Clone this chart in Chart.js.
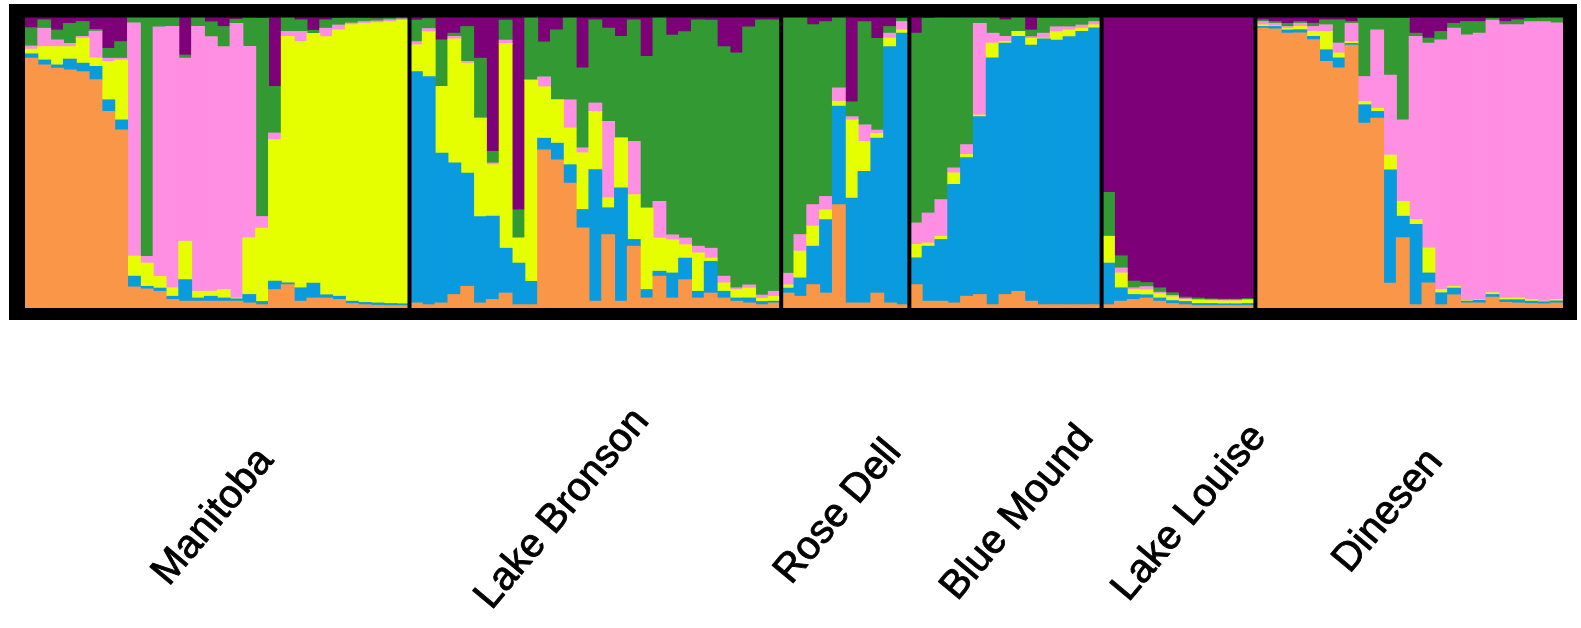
<!DOCTYPE html>
<html>
<head>
<meta charset="utf-8">
<script src="https://cdn.jsdelivr.net/npm/chart.js@4.4.1/dist/chart.umd.min.js"></script>
<style>
  html, body { margin: 0; padding: 0; background: #ffffff; }
  #wrap { width: 1581px; height: 628px; }
</style>
</head>
<body>
<div id="wrap"><canvas id="c" width="1581" height="628"></canvas></div>
<script>
// Sampling sites, in plotting order, and number of individuals per site
const populations = ['Manitoba', 'Lake Bronson', 'Rose Dell', 'Blue Mound', 'Lake Louise', 'Dinesen'];
const popSizes = [30, 29, 10, 15, 12, 24];

// Ancestry proportions (Q) for each individual, one array per genetic cluster.
// Rows: Manitoba | Lake Bronson | Rose Dell | Blue Mound | Lake Louise | Dinesen
const clusterOrange = [
  .858,.835,.824,.818,.812,.784,.675,.612,.072,.065,.057,.029,.023,.023,.023,.023,.023,.017,.011,.063,.080,.023,.034,.034,.029,.015,.011,.009,.008,.008,
  .017,.011,.017,.046,.074,.017,.029,.051,.011,.011,.543,.509,.429,.275,.023,.252,.023,.212,.034,.109,.034,.097,.034,.051,.034,.023,.017,.011,.017,
  .051,.040,.080,.051,.355,.017,.017,.051,.017,.011,
  .080,.023,.023,.017,.040,.046,.011,.046,.057,.023,.011,.011,.011,.011,.011,
  .011,.023,.029,.034,.023,.015,.011,.008,.008,.008,.008,.008,
  .961,.959,.944,.945,.922,.847,.825,.903,.635,.652,.085,.241,.011,.086,.011,.045,.017,.017,.037,.019,.017,.015,.014,.017
];
const clusterBlue = [
  .015,.017,.011,.037,.029,.046,.040,.034,.037,.009,.011,.011,.074,.011,.017,.011,.008,.029,.011,.029,.006,.046,.051,.011,.011,.008,.008,.008,.007,.006,
  .795,.784,.515,.452,.389,.297,.286,.154,.143,.080,.040,.057,.063,.063,.452,.092,.389,.023,.029,.017,.086,.074,.023,.109,.023,.011,.017,.011,.006,
  .017,.063,.132,.252,.338,.360,.452,.532,.881,.933,
  .092,.189,.212,.407,.476,.611,.848,.864,.876,.880,.913,.909,.921,.939,.951,
  .143,.046,.017,.011,.011,.010,.011,.007,.007,.006,.006,.007,
  .006,.008,.011,.011,.011,.040,.034,.006,.063,.023,.389,.074,.276,.034,.041,.023,.006,.009,.009,.009,.011,.008,.007,.007
];
const clusterYellow = [
  .016,.046,.063,.043,.086,.029,.132,.206,.069,.080,.040,.029,.132,.023,.017,.029,.003,.195,.252,.486,.847,.847,.858,.887,.915,.950,.959,.963,.969,.974,
  .092,.154,.229,.426,.378,.338,.177,.704,.086,.692,.177,.149,.126,.195,.200,.034,.172,.154,.280,.114,.114,.046,.132,.011,.029,.029,.034,.011,.017,
  .011,.092,.069,.034,.017,.269,.103,.017,.029,.011,
  .046,.011,.011,.040,.011,.006,.051,.006,.017,.023,.003,.029,.023,.011,.011,
  .092,.051,.017,.017,.015,.013,.007,.011,.010,.010,.010,.011,
  .006,.002,.006,.011,.017,.063,.017,.006,.011,.011,.051,.051,.017,.086,.011,.006,.002,.002,.006,.006,.006,.006,.002,.005
];
const clusterPink = [
  .011,.063,.023,.011,.006,.092,.011,.006,.801,.023,.858,.898,.629,.910,.875,.835,.944,.658,.040,.023,.017,.034,.000,.029,.017,.006,.006,.006,.006,.005,
  .011,.011,.000,.009,.006,.000,.006,.011,.000,.000,.034,.000,.097,.017,.029,.263,.000,.183,.000,.126,.017,.023,.023,.034,.023,.006,.011,.011,.017,
  .040,.057,.074,.046,.046,.011,.057,.011,.017,.029,
  .074,.103,.126,.017,.034,.315,.034,.017,.000,.006,.017,.017,.011,.011,.011,
  .000,.017,.006,.011,.005,.005,.003,.003,.003,.003,.003,.003,
  .011,.009,.006,.011,.017,.023,.034,.063,.086,.269,.275,.280,.629,.704,.858,.887,.913,.916,.937,.939,.939,.955,.961,.950
];
const clusterGreen = [
  .063,.029,.034,.069,.051,.006,.034,.057,.022,.823,.033,.033,.011,.033,.051,.069,.014,.097,.681,.160,.050,.040,.011,.029,.023,.017,.011,.008,.006,.005,
  .074,.034,.160,.011,.120,.206,.040,.069,.097,.216,.120,.240,.285,.275,.286,.320,.349,.418,.521,.634,.686,.709,.778,.784,.789,.807,.887,.946,.933,
  .881,.748,.618,.601,.244,.051,.355,.315,.023,.011,
  .652,.669,.628,.519,.439,.022,.056,.057,.050,.023,.051,.029,.029,.023,.014,
  .151,.042,.023,.014,.015,.009,.005,.005,.003,.003,.003,.003,
  .006,.006,.011,.006,.011,.017,.080,.006,.200,.040,.195,.349,.011,.017,.029,.017,.046,.040,.006,.011,.017,.011,.014,.019
];
const clusterPurple = [
  .037,.010,.045,.022,.016,.045,.108,.085,.000,.000,.001,.000,.130,.000,.016,.033,.008,.005,.005,.239,.000,.010,.045,.010,.005,.005,.005,.006,.005,.003,
  .010,.005,.079,.056,.033,.142,.462,.010,.662,.001,.085,.045,.000,.176,.010,.039,.068,.010,.136,.000,.062,.050,.010,.010,.102,.125,.033,.010,.010,
  .000,.000,.027,.016,.000,.292,.016,.074,.033,.005,
  .056,.005,.000,.000,.000,.000,.000,.010,.000,.045,.005,.005,.005,.005,.002,
  .603,.821,.908,.913,.931,.948,.963,.966,.969,.970,.970,.968,
  .010,.016,.022,.016,.022,.010,.010,.016,.005,.005,.005,.005,.056,.073,.050,.022,.016,.016,.005,.016,.010,.005,.002,.002
];

// One category per individual, named after its site
const individuals = [];
populations.forEach((p, i) => {
  for (let k = 1; k <= popSizes[i]; k++) individuals.push(p + ' ' + k);
});

const clusterColors = ['#F99648', '#0A9BDF', '#E6FF00', '#FF8FE3', '#339933', '#7E0078'];
const clusterData = [clusterOrange, clusterBlue, clusterYellow, clusterPink, clusterGreen, clusterPurple];

// Black frame around the plot, black rules between sites, rotated site names
const structurePlot = {
  id: 'structurePlot',
  afterDatasetsDraw(chart) {
    const { ctx, chartArea: a, scales: { x } } = chart;
    ctx.save();
    ctx.fillStyle = '#000';
    ctx.beginPath();
    ctx.rect(9, 4, 1568, 316);
    ctx.rect(a.left, a.top + 0.5, a.right - a.left, a.bottom - a.top - 0.5);
    ctx.fill('evenodd');

    const step = (a.right - a.left) / individuals.length;
    ctx.lineWidth = 4;
    ctx.strokeStyle = '#000';
    let start = 0;
    for (let i = 0; i < popSizes.length - 1; i++) {
      start += popSizes[i];
      const xb = x.getPixelForValue(start) - step / 2;
      ctx.beginPath();
      ctx.moveTo(xb, a.top);
      ctx.lineTo(xb, a.bottom);
      ctx.stroke();
    }
    ctx.restore();
  },
  afterDraw(chart) {
    const { ctx, scales: { x } } = chart;
    // horizontal offset from the site centre, and vertical centre of each name
    const place = [[-4, 517], [-33, 509], [-7, 512], [12, 513], [11, 513], [-21, 511]];
    ctx.save();
    ctx.fillStyle = '#000';
    ctx.strokeStyle = '#000';
    ctx.lineWidth = 0.9;
    ctx.lineJoin = 'round';
    ctx.font = '40px "Liberation Sans", Arial, sans-serif';
    ctx.textAlign = 'center';
    ctx.textBaseline = 'middle';
    let start = 0;
    populations.forEach((p, i) => {
      const first = x.getPixelForValue(start);
      const last = x.getPixelForValue(start + popSizes[i] - 1);
      const cx = (first + last) / 2 + place[i][0];
      ctx.save();
      ctx.translate(cx, place[i][1]);
      ctx.rotate(-50 * Math.PI / 180);
      ctx.fillText(p, 0, 0);
      ctx.strokeText(p, 0, 0);
      ctx.restore();
      start += popSizes[i];
    });
    ctx.restore();
  }
};

new Chart(document.getElementById('c'), {
  type: 'bar',
  data: {
    labels: individuals,
    datasets: clusterData.map((d, i) => ({
      label: 'K' + (i + 1),
      data: d,
      backgroundColor: clusterColors[i],
      borderWidth: 0,
      inflateAmount: 0.5,
      barPercentage: 1,
      categoryPercentage: 1
    }))
  },
  options: {
    responsive: false,
    animation: false,
    layout: { padding: { left: 25, top: 17, right: 18, bottom: 320 } },
    plugins: { legend: { display: false }, tooltip: { enabled: false } },
    scales: {
      x: { stacked: true, display: false },
      y: { stacked: true, display: false, min: 0, max: 1 }
    }
  },
  plugins: [structurePlot]
});
</script>
</body>
</html>
